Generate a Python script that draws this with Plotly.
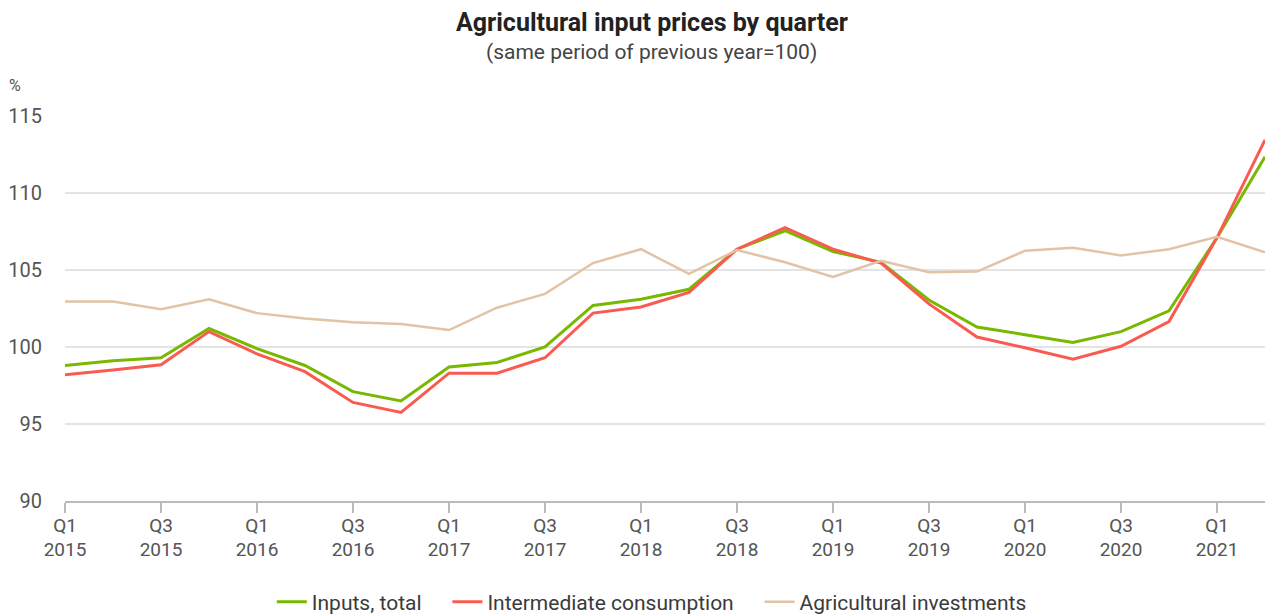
import plotly.graph_objects as go

quarters = [f"Q{q} {y}" for y in range(2015, 2022) for q in range(1, 5)][:26]
tick_labels = [f"Q{q}<br>{y}" for y in range(2015, 2022) for q in (1, 3)][:13]

inputs_total = [98.8, 99.1, 99.3, 101.2, 99.9, 98.8, 97.1, 96.5, 98.7, 99.0, 100.0, 102.7,
                103.1, 103.75, 106.35, 107.55, 106.2, 105.5, 103.05, 101.3, 100.8, 100.3,
                101.0, 102.35, 107.1, 112.35]
intermediate = [98.2, 98.5, 98.85, 101.0, 99.55, 98.4, 96.4, 95.75, 98.3, 98.3, 99.3, 102.2,
                102.6, 103.55, 106.35, 107.75, 106.35, 105.45, 102.8, 100.65, 99.95, 99.2,
                100.05, 101.65, 107.1, 113.45]
investments = [102.95, 102.95, 102.45, 103.1, 102.2, 101.85, 101.6, 101.5, 101.1, 102.55,
               103.45, 105.45, 106.35, 104.75, 106.3, 105.5, 104.55, 105.6, 104.85, 104.9,
               106.25, 106.45, 105.95, 106.35, 107.15, 106.15]

series = [
    ("Inputs, total", inputs_total, "#79b800", 3),
    ("Intermediate consumption", intermediate, "#fa5b50", 3),
    ("Agricultural investments", investments, "#e2c3a6", 2.5),
]

x = list(range(len(quarters)))
pad = "\u00a0" * 4  # a bit more room between legend entries

fig = go.Figure()
for i, (name, vals, color, w) in enumerate(series):
    label = name + (pad if i < len(series) - 1 else "")
    fig.add_trace(go.Scatter(x=x, y=vals, name=label, mode="lines",
                             line=dict(color=color, width=w),
                             text=quarters, hoverinfo="text+y"))

# reference line at 100
fig.add_shape(type="line", xref="paper", x0=0, x1=1, y0=100, y1=100,
              line=dict(color="#999999", width=1.5), layer="below")

fig.update_layout(
    width=1267, height=614,
    margin=dict(l=65, r=2, t=116, b=113),
    paper_bgcolor="white", plot_bgcolor="white",
    font=dict(family="Roboto", color="#333333", size=16),
    showlegend=True,
    legend=dict(orientation="h", x=0.489, xanchor="center",
                yref="container", y=0.0195, yanchor="middle",
                font=dict(size=21, color="#3a3a3a"), itemwidth=30),
    xaxis=dict(range=[0, 25], tickvals=list(range(0, 25, 2)), ticktext=tick_labels,
               showgrid=False, showline=True, linecolor="#bbbbbb", linewidth=1.5,
               ticks="outside", ticklen=10, tickcolor="#bbbbbb", tickwidth=1.5,
               tickfont=dict(size=19, color="#555555"), zeroline=False,
               ticklabelstandoff=-4),
    yaxis=dict(range=[90, 115], dtick=5, showgrid=True, gridcolor="#e4e4e4", gridwidth=1.5,
               zeroline=False, ticks="", tickfont=dict(size=20, color="#555555"),
               ticklabelstandoff=22),
    annotations=[
        dict(text="<b>Agricultural input prices by quarter</b>", xref="paper", yref="paper",
             x=0.489, y=1.244, showarrow=False, font=dict(size=25, color="#222222"),
             xanchor="center", yanchor="middle"),
        dict(text="(same period of previous year=100)", xref="paper", yref="paper",
             x=0.489, y=1.166, showarrow=False, font=dict(size=21, color="#444444"),
             xanchor="center", yanchor="middle"),
        dict(text="%", xref="paper", yref="paper", x=-0.048, y=1.08, showarrow=False,
             font=dict(size=16, color="#555555"), xanchor="left", yanchor="middle"),
    ],
)

fig.write_html("out.html", config={"displayModeBar": False},
               post_script="document.body.style.margin='0';")
